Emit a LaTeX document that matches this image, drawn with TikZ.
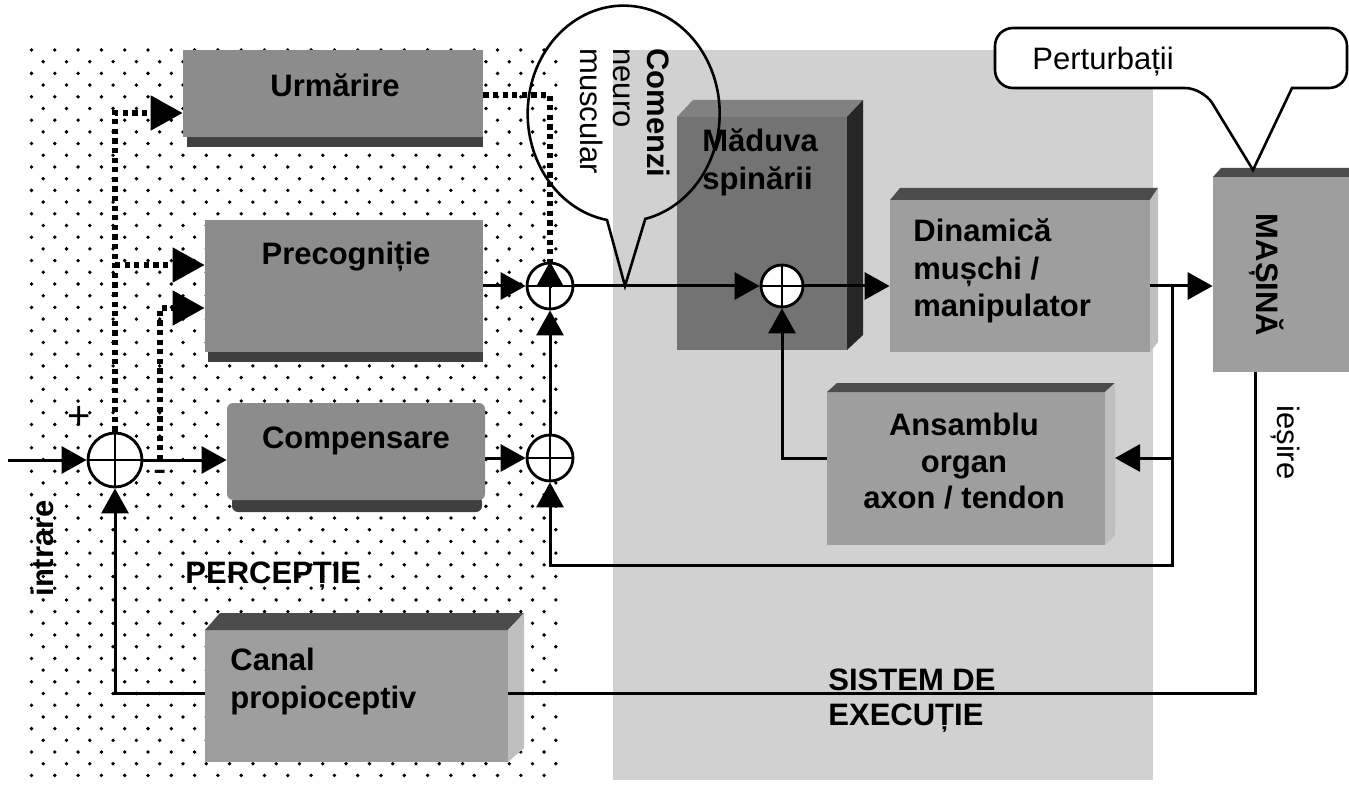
\documentclass[tikz,border=0pt]{standalone}
\usepackage{fontspec}
\setmainfont{Liberation Sans}
\usetikzlibrary{arrows.meta,fit}

\definecolor{execbg}{gray}{0.82}
\definecolor{boxA}{gray}{0.55}
\definecolor{bandA}{gray}{0.25}
\definecolor{boxB}{gray}{0.62}
\definecolor{topB}{gray}{0.30}
\definecolor{sideB}{gray}{0.75}
\definecolor{boxC}{gray}{0.45}
\definecolor{sideC}{gray}{0.15}

\tikzset{
  lbl/.style={font=\fontsize{15.5}{18.5}\selectfont\bfseries, inner sep=0pt},
  plain/.style={font=\fontsize{15.5}{18.5}\selectfont, inner sep=0pt},
  sign/.style={font=\fontsize{20}{22}\selectfont, inner sep=0pt},
  blk/.style={inner sep=0pt, draw=none, rectangle},
  wire/.style={line width=1.5pt},
  arr/.style={wire, -{Triangle[length=12.5pt,width=13.5pt]}},
  dotwire/.style={line width=2.6pt, dash pattern=on 2.6pt off 2.2pt},
  bigarr/.style={-{Triangle[length=16pt,width=17pt]}},
  sum/.style={circle, draw, line width=1.4pt, fill=white, inner sep=0pt,
    minimum size=#1,
    path picture={\draw[line width=1.2pt]
      (path picture bounding box.north) -- (path picture bounding box.south)
      (path picture bounding box.west) -- (path picture bounding box.east);}},
  callout/.style={line width=1.3pt},
}

\begin{document}
\begin{tikzpicture}[x=0.5pt,y=-0.5pt]
\useasboundingbox (0,0) rectangle (1349,786);
\fill[white] (0,0) rectangle (1349,786);

% execution system area
\fill[execbg] (613,50) rectangle (1153,780);

% perception area: staggered dot grid
\foreach \r in {0,...,62}{
  \pgfmathsetmacro\yy{50+11.7*\r}
  \pgfmathsetmacro\xo{mod(\r,2)==0 ? 31.5 : 43.2}
  \foreach \c in {0,...,22}{
    \fill (\xo+23.3*\c,\yy) circle (0.95pt);
  }
}

% ---- blocks ----
% Urmarire
\fill[bandA] (187,137) rectangle (483,147);
\node[fit={(183,50) (483,137)}, blk, fill=boxA] (urm) {};
% Precognitie
\fill[bandA] (208,352) rectangle (483,362);
\node[fit={(205,220) (483,352)}, blk, fill=boxA] (prec) {};
% Compensare
\fill[bandA, rounded corners=3pt] (232,496) rectangle (482,512);
\node[fit={(227,403) (485,500)}, blk, fill=boxA, rounded corners=3pt] (comp) {};
% Canal propioceptiv
\node[fit={(205,630) (508,762)}, blk, fill=boxB] (can) {};
\fill[topB] (205,630) -- (220,613) -- (524,613) -- (508,630) -- cycle;
\fill[sideB] (508,630) -- (524,613) -- (524,748) -- (508,762) -- cycle;
% Maduva spinarii
\node[fit={(677,117) (847,350)}, blk, fill=boxC] (mad) {};
\fill[boxC!90!white] (677,117) -- (693,100) -- (863,100) -- (847,117) -- cycle;
\fill[sideC] (847,117) -- (863,100) -- (863,335) -- (847,350) -- cycle;
% Dinamica
\node[fit={(890,200) (1150,352)}, blk, fill=boxB] (dyn) {};
\fill[topB] (890,200) -- (900,188) -- (1158,188) -- (1150,200) -- cycle;
\fill[sideB] (1150,200) -- (1158,188) -- (1158,342) -- (1150,352) -- cycle;
% Ansamblu
\node[fit={(827,392) (1105,545)}, blk, fill=boxB] (ans) {};
\fill[topB] (827,392) -- (837,383) -- (1115,383) -- (1105,392) -- cycle;
\fill[sideB] (1105,392) -- (1115,383) -- (1115,535) -- (1105,545) -- cycle;
% Masina
\node[fit={(1213,177) (1349,372)}, blk, fill=boxB] (mas) {};
\fill[topB] (1213,177) -- (1221,168) -- (1349,168) -- (1349,177) -- cycle;

% ---- block texts ----
\node[lbl, anchor=base] (turm) at (335,97) {Urmărire};
\node[lbl, anchor=base] (tprec) at (346,264) {Precogniție};
\node[lbl, anchor=base] (tcomp) at (356,448) {Compensare};
\node[lbl, anchor=base west] (tcan1) at (230,670) {Canal};
\node[lbl, anchor=base west] (tcan2) at (230,708) {propioceptiv};
\node[lbl, anchor=base west] (tmad1) at (702,152) {Măduva};
\node[lbl, anchor=base west] (tmad2) at (702,190) {spinării};
\node[lbl, anchor=base west] (tdyn1) at (913,242) {Dinamică};
\node[lbl, anchor=base west] (tdyn2) at (913,279) {mușchi /};
\node[lbl, anchor=base west] (tdyn3) at (913,316) {manipulator};
\node[lbl, anchor=base] (tans1) at (964,435) {Ansamblu};
\node[lbl, anchor=base] (tans2) at (964,472) {organ};
\node[lbl, anchor=base] (tans3) at (964,508) {axon / tendon};
\node[lbl, rotate=-90] (tmas) at (1267,275) {MAȘINĂ};

% ---- area labels ----
\node[lbl, anchor=base west] (tperc) at (185,583) {PERCEPȚIE};
\node[lbl, anchor=base west] (tsis1) at (828,690) {SISTEM DE};
\node[lbl, anchor=base west] (tsis2) at (828,725) {EXECUȚIE};
\node[lbl, rotate=90, anchor=base west] (tin) at (53,597) {intrare};
\node[plain, rotate=-90, anchor=base west] (tout) at (1277,405) {ieșire};
\node[sign] (tplus) at (79,418) {+};
\node[sign] (tminus) at (160,476) {-};

% ---- summing junctions ----
\node[sum=27pt] (S1) at (115,460) {};
\node[sum=23pt] (S2) at (550,286) {};
\node[sum=23pt] (S3) at (550,458) {};
\node[sum=21pt] (S4) at (782,286) {};

% ---- connectors ----
\coordinate (in) at (8,460);
\draw[arr] (in) -- (S1);
\draw[arr] (S1) -- (S1 -| comp.west);

% dotted feed-forward paths
\coordinate (d1) at (115,113);
\coordinate (d2) at (115,265);
\coordinate (d3) at (160,460);
\coordinate (d4) at (160,308);
\coordinate (d5) at (550,95);
\draw[dotwire, bigarr] (S1.north) -- (d1) -- (d1 -| urm.west);
\draw[dotwire, bigarr] (d2) -- (d2 -| prec.west);
\draw[dotwire, bigarr] (d3) -- (d4) -- (d4 -| prec.west);
\draw[dotwire] (d5 -| urm.east) -- (d5) -- ([yshift=-12.5pt]S2.north);
\draw[arr] ([yshift=-13pt]S2.north) -- (S2.north);

% forward path
\draw[arr] (S2 -| prec.east) -- (S2);
\draw[arr] (S3 -| comp.east) -- (S3);
\draw[arr] (S3) -- (S2);
\draw[arr] (S2) -- (S4);
\draw[arr] (S4) -- (S4 -| dyn.west);

% inner feedback loops
\coordinate (t1) at (1172,286);
\coordinate (t2) at (1172,565);
\coordinate (t3) at (1172,458);
\coordinate (ansR) at (1115,458);
\coordinate (t4) at (782,458);
\draw[wire] (S4 -| dyn.east) -- (t1);
\draw[arr] (t1) -- (t1 -| mas.west);
\draw[arr] (t1) -- (t2) -- (t2 -| S3) -- (S3);
\draw[arr] (t3) -- (ansR);
\draw[arr] (t4 -| ans.west) -- (t4) -- (S4);

% proprioceptive loop
\coordinate (m0) at (1255,372);
\coordinate (m1) at (1255,693);
\coordinate (c1) at (115,693);
\draw[wire] (m0) -- (m1) -- (m1 -| can.east);
\draw[arr] (c1 -| can.west) -- (c1) -- (S1);

% ---- callouts ----
\draw[callout] (607,220) arc[start angle=260, end angle=-77, x radius=48pt, y radius=54pt]
  -- (625,286) -- cycle;
\node[lbl, rotate=-90, anchor=base west] (tcom1) at (647,48) {Comenzi};
\node[plain, rotate=-90, anchor=base west] (tcom2) at (613,48) {neuro};
\node[plain, rotate=-90, anchor=base west] (tcom3) at (580,48) {muscular};

\draw[callout, fill=white] (1203,88) -- (1253,170) -- (1292,88)
  [rounded corners=9pt] -- (1347,88) -- (1347,28) -- (995,28) -- (995,88) -- cycle;
\node[plain, anchor=base west] (tpert) at (1032,70) {Perturbații};
\end{tikzpicture}
\end{document}
